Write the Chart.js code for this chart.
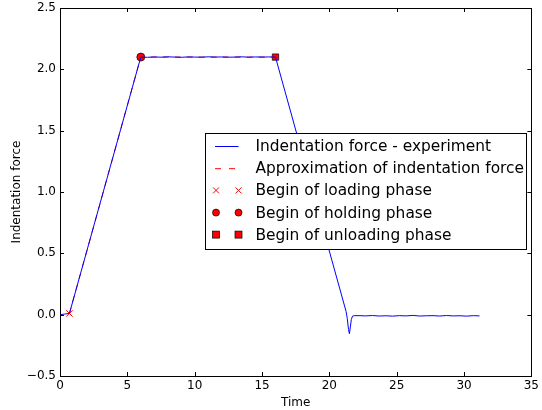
<!DOCTYPE html>
<html>
<head>
<meta charset="utf-8">
<script src="https://cdn.jsdelivr.net/npm/chart.js@4/dist/chart.umd.min.js"></script>
<style>
html,body{margin:0;padding:0;background:#fff;}
canvas{display:block;}
</style>
</head>
<body>
<canvas id="c" width="542" height="410"></canvas>
<script>
// ---- data ----
const expTime = [0, 0.35, 0.7, 6.0, 6.5, 7.0, 7.5, 8.0, 8.5, 9.0, 9.5, 10.0, 10.5, 11.0, 11.5, 12.0, 12.5, 13.0, 13.5, 14.0, 14.5, 15.0, 15.5, 16.0,
  21.24, 21.33, 21.42, 21.49, 21.56, 21.63, 21.72, 21.85, 22.2, 22.7, 23.2, 23.7, 24.2, 24.7, 25.2, 25.7, 26.2, 26.7, 27.2, 27.7, 28.2, 28.7, 29.2, 29.7, 30.2, 30.7, 31.15];
const expForce = [0.0, 0.005, 0.01, 2.1, 2.098, 2.101, 2.099, 2.102, 2.1, 2.098, 2.101, 2.1, 2.099, 2.102, 2.1, 2.101, 2.099, 2.1, 2.102, 2.099, 2.101, 2.1, 2.101, 2.1,
  0.027, -0.03, -0.12, -0.155, -0.10, -0.04, -0.012, -0.008, -0.008, -0.01, -0.007, -0.011, -0.009, -0.012, -0.008, -0.01, -0.006, -0.011, -0.009, -0.008, -0.011, -0.007, -0.01, -0.009, -0.012, -0.008, -0.01];
const approxTime = [0.7, 6.0, 16.0];
const approxForce = [0.01, 2.1, 2.1];
const loadBegin = [0.7, 0.01];
const holdBegin = [6.0, 2.1];
const unloadBegin = [16.0, 2.1];
const xTicks = [0, 5, 10, 15, 20, 25, 30, 35];
const yTicks = [-0.5, 0.0, 0.5, 1.0, 1.5, 2.0, 2.5];
const legendLabels = ['Indentation force - experiment', 'Approximation of indentation force', 'Begin of loading phase', 'Begin of holding phase', 'Begin of unloading phase'];

const FONT = 'DejaVu Sans';
const toXY = (xs, ys) => xs.map((x, i) => ({x: x, y: ys[i]}));

const frame = {
  id: 'frame',
  afterDraw(chart) {
    const ctx = chart.ctx;
    const a = chart.chartArea;
    const xs = chart.scales.x, ys = chart.scales.y;
    ctx.save();
    ctx.strokeStyle = '#000';
    ctx.lineWidth = 1;
    // inward ticks on all four sides
    ctx.beginPath();
    xTicks.forEach(v => {
      const px = Math.round(xs.getPixelForValue(v)) + 0.5;
      ctx.moveTo(px, a.bottom); ctx.lineTo(px, a.bottom - 4);
      ctx.moveTo(px, a.top); ctx.lineTo(px, a.top + 4);
    });
    yTicks.forEach(v => {
      const py = Math.round(ys.getPixelForValue(v)) + 0.5;
      ctx.moveTo(a.left, py); ctx.lineTo(a.left + 4, py);
      ctx.moveTo(a.right, py); ctx.lineTo(a.right - 4, py);
    });
    ctx.stroke();
    ctx.strokeRect(Math.round(a.left) + 0.5, Math.round(a.top) + 0.5, Math.round(a.right - a.left), Math.round(a.bottom - a.top));

    // legend
    const bx = 205.5, by = 133.5, bw = 321, bh = 116;
    ctx.fillStyle = '#fff';
    ctx.fillRect(bx, by, bw, bh);
    ctx.strokeStyle = '#000';
    ctx.strokeRect(bx, by, bw, bh);
    const rowY = [146, 168.2, 190.4, 212.6, 234.6];
    const h1 = 216, h2 = 238.5, tx = 255.5;
    ctx.font = '15.4px "' + FONT + '"';
    ctx.textBaseline = 'middle';
    ctx.textAlign = 'left';
    legendLabels.forEach((t, i) => {
      const y = rowY[i];
      ctx.fillStyle = '#000';
      ctx.fillText(t, tx, y + 1);
      if (i === 0) {
        ctx.strokeStyle = '#0000ff'; ctx.lineWidth = 1; ctx.setLineDash([]);
        ctx.beginPath(); ctx.moveTo(h1 - 1, y + 0.5); ctx.lineTo(h2, y + 0.5); ctx.stroke();
      } else if (i === 1) {
        ctx.strokeStyle = '#ff0000'; ctx.lineWidth = 1; ctx.setLineDash([6, 8]);
        ctx.beginPath(); ctx.moveTo(h1 - 1, y + 0.5); ctx.lineTo(h2 + 1, y + 0.5); ctx.stroke();
        ctx.setLineDash([]);
      } else {
        [h1, h2].forEach(cx => {
          ctx.lineWidth = 1;
          if (i === 2) {
            ctx.strokeStyle = '#ff0000';
            ctx.beginPath();
            ctx.moveTo(cx - 3, y - 3); ctx.lineTo(cx + 3, y + 3);
            ctx.moveTo(cx - 3, y + 3); ctx.lineTo(cx + 3, y - 3);
            ctx.stroke();
          } else if (i === 3) {
            ctx.fillStyle = '#ff0000'; ctx.strokeStyle = '#000'; ctx.lineWidth = 0.7;
            ctx.beginPath(); ctx.arc(cx, y, 3.5, 0, Math.PI * 2); ctx.fill(); ctx.stroke();
          } else {
            ctx.fillStyle = '#ff0000'; ctx.strokeStyle = '#000'; ctx.lineWidth = 0.7;
            ctx.fillRect(cx - 3.5, y - 3.5, 7, 7); ctx.strokeRect(cx - 3.5, y - 3.5, 7, 7);
          }
        });
      }
    });
    ctx.restore();
  }
};

new Chart(document.getElementById('c'), {
  type: 'scatter',
  data: {
    datasets: [
      {label: legendLabels[0], data: toXY(expTime, expForce), showLine: true, borderColor: '#0000ff', borderWidth: 1, pointRadius: 0, tension: 0},
      {label: legendLabels[1], data: toXY(approxTime, approxForce), showLine: true, borderColor: '#ff0000', borderWidth: 1, borderDash: [6, 6], pointRadius: 0, tension: 0},
      {label: legendLabels[2], data: [{x: loadBegin[0], y: loadBegin[1]}], pointStyle: 'crossRot', pointRadius: 4.5, borderColor: '#ff0000', borderWidth: 1, backgroundColor: '#ff0000'},
      {label: legendLabels[3], data: [{x: holdBegin[0], y: holdBegin[1]}], pointStyle: 'circle', pointRadius: 4, borderColor: '#000', borderWidth: 0.7, backgroundColor: '#ff0000'},
      {label: legendLabels[4], data: [{x: unloadBegin[0], y: unloadBegin[1]}], pointStyle: 'rect', pointRadius: 4.5, borderColor: '#000', borderWidth: 0.7, backgroundColor: '#ff0000'}
    ]
  },
  options: {
    responsive: false,
    animation: false,
    events: [],
    layout: {padding: {top: 8, right: 7, left: 0, bottom: 0}},
    plugins: {legend: {display: false}, tooltip: {enabled: false}},
    scales: {
      x: {
        type: 'linear', min: 0, max: 35,
        afterBuildTicks: s => { s.ticks = xTicks.map(v => ({value: v})); },
        afterFit: s => { s.height = 34; },
        grid: {display: false, drawTicks: false},
        border: {display: false},
        ticks: {color: '#000', padding: 3, maxRotation: 0, font: {family: FONT, size: 12}, callback: v => String(v)},
        title: {display: true, text: 'Time', color: '#000', font: {family: FONT, size: 12}, padding: {top: 0, bottom: 0}}
      },
      y: {
        type: 'linear', min: -0.5, max: 2.5,
        afterBuildTicks: s => { s.ticks = yTicks.map(v => ({value: v})); },
        afterFit: s => { s.width = 60; s.paddingTop = 0; s.paddingBottom = 0; },
        grid: {display: false, drawTicks: false},
        border: {display: false},
        ticks: {color: '#000', padding: 4, font: {family: FONT, size: 12, lineHeight: 0.5}, callback: v => (v < 0 ? '\u2212' : '') + Math.abs(v).toFixed(1)},
        title: {display: true, text: 'Indentation force', color: '#000', font: {family: FONT, size: 12}, padding: {top: 10, bottom: 0}}
      }
    }
  },
  plugins: [frame]
});
</script>
</body>
</html>
